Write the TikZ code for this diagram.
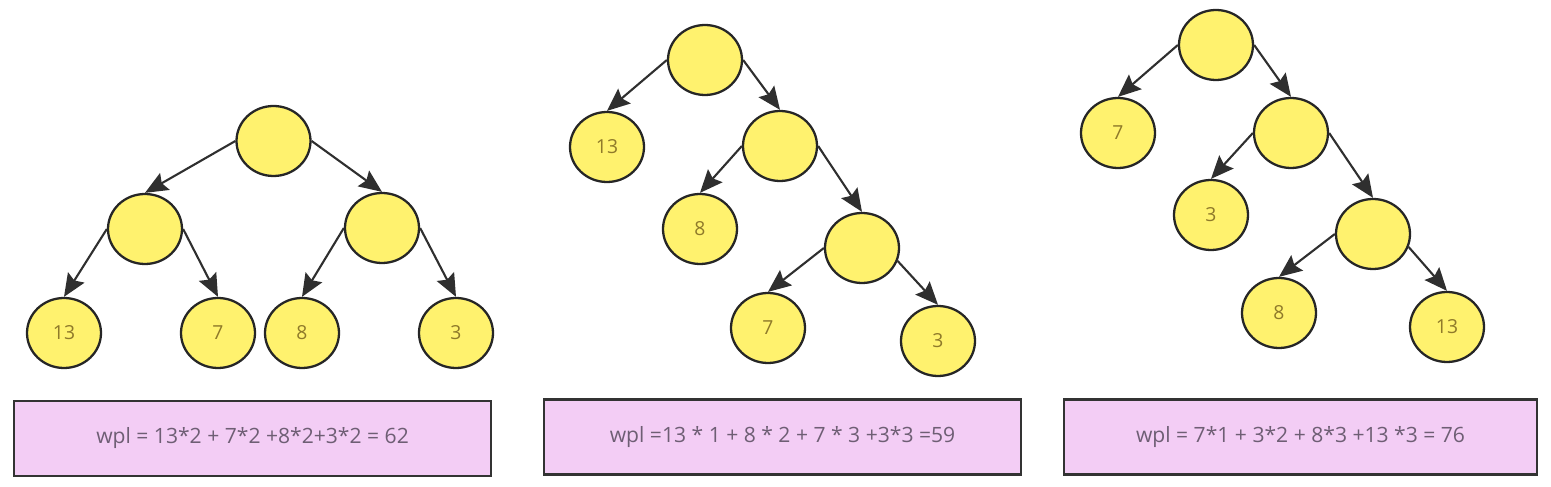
\documentclass[tikz,border=0pt]{standalone}
\usepackage{fontspec}
\setmainfont{Open Sans}
\usepackage{tikz}
\usetikzlibrary{arrows.meta}
\usetikzlibrary{shapes.geometric}

\definecolor{nodefill}{HTML}{FFF26E}
\definecolor{nodetext}{HTML}{8F7A2A}
\definecolor{boxfill}{HTML}{F3CDF5}
\definecolor{boxtext}{HTML}{6E5E74}
\definecolor{edgecol}{HTML}{2F2F2F}

\begin{document}
\begin{tikzpicture}[line width=1.3pt,
    leaf/.style={ellipse,draw=black!85,fill=nodefill,minimum width=1.48cm,minimum height=1.40cm,
        inner sep=0pt,text=nodetext,font=\fontsize{11}{13}\selectfont},
    wplbox/.style={draw=black!80,fill=boxfill,minimum height=1.50cm,inner sep=0pt,
        text=boxtext,font=\fontsize{12}{14}\selectfont},
    edge/.style={draw=edgecol,line width=1.2pt,-{Stealth[length=13pt,width=11pt,inset=2pt]}}]
        \useasboundingbox (0,0) rectangle (31.02,-9.74);

        % first tree
        \node[leaf] (ar) at (5.47,-2.82) {};
        \node[leaf] (aa) at (2.90,-4.58) {};
        \node[leaf] (ab) at (7.64,-4.56) {};
        \node[leaf] (a13) at (1.28,-6.66) {13};
        \node[leaf] (a7) at (4.36,-6.66) {7};
        \node[leaf] (a8) at (6.04,-6.66) {8};
        \node[leaf] (a3) at (9.12,-6.66) {3};
        \draw[edge] (ar.west) -- (aa.north);
        \draw[edge] (ar.east) -- (ab.north);
        \draw[edge] (aa.west) -- (a13.north);
        \draw[edge] (aa.east) -- (a7.north);
        \draw[edge] (ab.west) -- (a8.north);
        \draw[edge] (ab.east) -- (a3.north);
        \node[wplbox,minimum width=9.54cm] (wa) at (5.05,-8.77) {wpl = 13*2 + 7*2 +8*2+3*2 = 62};

        % second tree
        \node[leaf] (br) at (14.10,-1.20) {};
        \node[leaf] (b13) at (12.14,-2.94) {13};
        \node[leaf] (bb) at (15.60,-2.92) {};
        \node[leaf] (b8) at (14.00,-4.58) {8};
        \node[leaf] (bc) at (17.24,-4.96) {};
        \node[leaf] (b7) at (15.36,-6.56) {7};
        \node[leaf] (b3) at (18.76,-6.82) {3};
        \draw[edge] (br.west) -- (b13.north);
        \draw[edge] (br.east) -- (bb.north);
        \draw[edge] (bb.west) -- (b8.north);
        \draw[edge] (bb.east) -- (bc.north);
        \draw[edge] (bc.west) -- (b7.north);
        \draw[edge] (bc.-20) -- (b3.north);
        \node[wplbox,minimum width=9.54cm] (wb) at (15.65,-8.74) {wpl =13 * 1 + 8 * 2 + 7 * 3 +3*3 =59};

        % third tree
        \node[leaf] (cr) at (24.32,-0.90) {};
        \node[leaf] (c7) at (22.36,-2.66) {7};
        \node[leaf] (cb) at (25.82,-2.66) {};
        \node[leaf] (c3) at (24.22,-4.30) {3};
        \node[leaf] (cc) at (27.46,-4.68) {};
        \node[leaf] (c8) at (25.58,-6.26) {8};
        \node[leaf] (c13) at (28.94,-6.54) {13};
        \draw[edge] (cr.west) -- (c7.north);
        \draw[edge] (cr.east) -- (cb.north);
        \draw[edge] (cb.west) -- (c3.north);
        \draw[edge] (cb.east) -- (cc.north);
        \draw[edge] (cc.west) -- (c8.north);
        \draw[edge] (cc.-20) -- (c13.north);
        \node[wplbox,minimum width=9.46cm] (wc) at (26.01,-8.74) {wpl = 7*1 + 3*2 + 8*3 +13 *3 = 76};
\end{tikzpicture}
\end{document}
